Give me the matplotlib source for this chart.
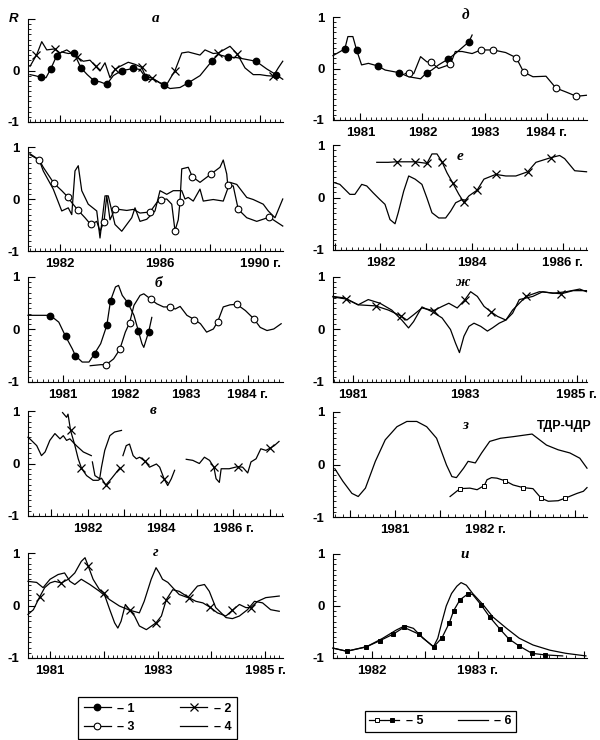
import numpy as np
import matplotlib
matplotlib.use('Agg')
import matplotlib.pyplot as plt
from matplotlib.lines import Line2D
from matplotlib.ticker import MultipleLocator
from matplotlib.legend_handler import HandlerTuple
from matplotlib import font_manager

plt.rcParams['font.family'] = ['Liberation Sans', 'DejaVu Sans']
names = {f.name for f in font_manager.fontManager.ttflist}
TICKFONT = 'Liberation Sans Narrow' if 'Liberation Sans Narrow' in names else 'Liberation Sans'
nan = np.nan

# ---- panel a (top) : curve 1 (dots) and curve 2 (crosses)
a_c1_x = [1980.80, 1981.00, 1981.23, 1981.44, 1981.63, 1981.87, 1982.07, 1982.33, 1982.56, 1982.84,
          1983.09, 1983.36, 1983.60, 1983.87, 1984.13, 1984.47, 1984.73, 1984.93, 1985.20, 1985.40,
          1985.67, 1985.93, 1986.16, 1986.40, 1986.80, 1987.13, 1987.60, 1988.07, 1988.33, 1988.73,
          1989.07, 1989.40, 1989.84, 1990.27, 1990.64, 1990.91]
a_c1_y = [-0.08, -0.10, -0.13, -0.14, 0.03, 0.29, 0.36, 0.33, 0.34, 0.05,
          -0.08, -0.20, -0.22, -0.27, -0.10, 0.00, 0.02, 0.04, 0.02, -0.12,
          -0.14, -0.22, -0.29, -0.35, -0.33, -0.24, -0.10, 0.18, 0.31, 0.26,
          0.25, 0.22, 0.18, 0.03, -0.08, -0.17]
a_c1_mx = [1981.23, 1981.63, 1981.87, 1982.56, 1982.84, 1983.36, 1983.87, 1984.47, 1984.93, 1985.40,
           1986.16, 1987.13, 1988.07, 1988.73, 1989.84, 1990.64]
a_c1_my = [-0.13, 0.03, 0.29, 0.34, 0.05, -0.20, -0.27, 0.00, 0.04, -0.12,
           -0.29, -0.24, 0.18, 0.26, 0.18, -0.08]
a_c2_x = [1980.80, 1981.07, 1981.27, 1981.47, 1981.80, 1982.00, 1982.27, 1982.69, 1982.93, 1983.20,
          1983.43, 1983.60, 1983.80, 1984.00, 1984.20, 1984.40, 1984.73, 1985.00, 1985.27, 1985.47,
          1985.73, 1986.00, 1986.27, 1986.60, 1986.87, 1987.13, 1987.60, 1987.80, 1988.13, 1988.33,
          1988.80, 1989.09, 1989.40, 1989.73, 1990.00, 1990.27, 1990.53, 1990.73, 1990.91]
a_c2_y = [0.08, 0.31, 0.56, 0.40, 0.42, 0.34, 0.40, 0.26, 0.18, 0.20,
          0.08, -0.01, 0.15, -0.14, 0.02, 0.08, 0.16, 0.12, 0.06, -0.17,
          -0.17, -0.24, -0.27, 0.00, 0.34, 0.36, 0.30, 0.40, 0.33, 0.34,
          0.47, 0.32, 0.05, -0.08, -0.08, -0.10, -0.11, 0.05, 0.18]
a_c2_mx = [1981.04, 1981.80, 1982.69, 1983.43, 1984.20, 1985.27, 1985.67, 1986.60, 1988.33, 1989.09, 1990.53]
a_c2_my = [0.31, 0.42, 0.26, 0.08, 0.02, 0.06, -0.15, 0.00, 0.34, 0.32, -0.11]

# ---- panel a (second row) : curve 3 (circles) and curve 4
a2_c3_x = [1980.80, 1981.17, 1981.33, 1981.76, 1982.07, 1982.33, 1982.47, 1982.73, 1983.00, 1983.23,
           1983.47, 1983.60, 1983.76, 1983.87, 1984.00, 1984.20, 1984.67, 1984.93, 1985.20, 1985.60,
           1985.87, 1986.04, 1986.27, 1986.47, 1986.60, 1986.73, 1986.80, 1986.87, 1987.13, 1987.29,
           1987.60, 1988.04, 1988.40, 1988.53, 1988.67, 1988.71, 1988.93, 1989.13, 1989.47, 1989.87,
           1990.37, 1990.91]
a2_c3_y = [0.85, 0.75, 0.61, 0.30, 0.16, 0.03, -0.07, -0.22, -0.36, -0.49,
           -0.43, -0.62, -0.44, 0.06, -0.40, -0.19, -0.22, -0.20, -0.27, -0.25,
           -0.07, -0.01, 0.00, -0.10, -0.61, -0.40, -0.05, 0.58, 0.61, 0.43,
           0.32, 0.48, 0.61, 0.75, 0.48, 0.27, 0.25, -0.20, -0.36, -0.43,
           -0.35, -0.52]
a2_c3_mx = [1981.17, 1981.76, 1982.33, 1982.73, 1983.23, 1983.76, 1984.20, 1985.60, 1986.04, 1986.60,
            1986.80, 1987.29, 1988.04, 1988.71, 1989.13, 1990.37]
a2_c3_my = [0.75, 0.30, 0.03, -0.22, -0.49, -0.44, -0.19, -0.25, -0.01, -0.61,
            -0.05, 0.43, 0.48, 0.27, -0.20, -0.35]
a2_c4_x = [1980.80, 1981.17, 1981.33, 1981.73, 1982.07, 1982.33, 1982.47, 1982.60, 1982.73, 1982.87,
           1983.13, 1983.47, 1983.60, 1983.80, 1983.93, 1984.20, 1984.47, 1984.87, 1985.00, 1985.20,
           1985.47, 1985.80, 1986.00, 1986.27, 1986.53, 1986.87, 1987.00, 1987.13, 1987.33, 1987.60,
           1987.73, 1988.13, 1988.53, 1988.80, 1989.07, 1989.47, 1989.73, 1990.13, 1990.33, 1990.60,
           1990.91]
a2_c4_y = [0.87, 0.75, 0.54, 0.19, -0.23, -0.17, -0.30, 0.54, 0.64, 0.16,
           -0.10, -0.23, -0.75, 0.06, 0.06, -0.49, -0.62, -0.36, -0.17, -0.43,
           -0.39, -0.23, 0.16, 0.09, 0.16, 0.16, 0.00, 0.03, -0.04, 0.19,
           -0.04, -0.01, -0.04, 0.32, 0.28, 0.03, -0.01, -0.10, -0.23, -0.36,
           0.00]

# ---- panel d (д)
d_c1_x = [1980.56, 1980.75, 1980.80, 1980.88, 1980.94, 1981.02, 1981.13, 1981.28, 1981.40, 1981.62,
          1981.78, 1981.97, 1982.07, 1982.15, 1982.26, 1982.41, 1982.53, 1982.75, 1982.80]
d_c1_y = [0.25, 0.38, 0.62, 0.62, 0.36, 0.07, 0.10, 0.05, -0.03, -0.08,
          -0.16, -0.20, -0.08, -0.03, 0.07, 0.18, 0.29, 0.52, 0.65]
d_c1_mx = [1980.75, 1980.94, 1981.28, 1981.62, 1982.07, 1982.41, 1982.75]
d_c1_my = [0.38, 0.36, 0.05, -0.08, -0.08, 0.18, 0.52]
d_c3_x = [1981.72, 1981.78, 1981.86, 1981.97, 1982.07, 1982.14, 1982.26, 1982.45, 1982.53, 1982.64,
          1982.80, 1982.94, 1983.14, 1983.34, 1983.51, 1983.63, 1983.78, 1983.99, 1984.15, 1984.32,
          1984.48, 1984.64]
d_c3_y = [-0.10, -0.08, -0.10, 0.23, 0.13, 0.12, 0.00, 0.08, 0.33, 0.33,
          0.29, 0.36, 0.36, 0.31, 0.21, -0.07, -0.16, -0.15, -0.38, -0.46,
          -0.54, -0.52]
d_c3_mx = [1981.78, 1982.14, 1982.45, 1982.94, 1983.14, 1983.51, 1983.63, 1984.15, 1984.48]
d_c3_my = [-0.08, 0.12, 0.08, 0.36, 0.36, 0.21, -0.07, -0.38, -0.54]

# ---- panel e (е)
e_c2_x = [1981.92, 1982.17, 1982.36, 1982.76, 1983.02, 1983.13, 1983.24, 1983.35, 1983.46, 1983.59,
          1983.72, 1983.83, 1983.94, 1984.12, 1984.27, 1984.53, 1984.75, 1984.97, 1985.23, 1985.41,
          1985.63, 1985.74, 1985.93, 1986.04, 1986.26, 1986.52]
e_c2_y = [0.67, 0.67, 0.68, 0.68, 0.65, 0.83, 0.83, 0.68, 0.47, 0.27,
          0.06, -0.09, 0.03, 0.14, 0.35, 0.44, 0.41, 0.41, 0.49, 0.67,
          0.73, 0.76, 0.80, 0.74, 0.51, 0.49]
e_c2_mx = [1982.36, 1982.76, 1983.02, 1983.35, 1983.59, 1983.83, 1984.12, 1984.53, 1985.23, 1985.74]
e_c2_my = [0.68, 0.68, 0.65, 0.68, 0.27, -0.09, 0.14, 0.44, 0.49, 0.76]
e_c4_x = [1981.00, 1981.11, 1981.33, 1981.44, 1981.59, 1981.70, 1981.84, 1981.99, 1982.10, 1982.21,
          1982.32, 1982.39, 1982.51, 1982.62, 1982.76, 1982.91, 1983.02, 1983.13, 1983.28, 1983.43,
          1983.54, 1983.65, 1983.79, 1983.87]
e_c4_y = [0.28, 0.25, 0.06, 0.06, 0.25, 0.22, 0.09, -0.04, -0.13, -0.42,
          -0.50, -0.29, 0.12, 0.41, 0.35, 0.25, -0.01, -0.29, -0.39, -0.39,
          -0.26, -0.10, -0.04, -0.05]

# ---- panel b (б)
b_c1_x = [1980.43, 1980.79, 1980.93, 1981.04, 1981.15, 1981.20, 1981.31, 1981.42, 1981.51, 1981.61,
          1981.71, 1981.77, 1981.85, 1981.90, 1981.96, 1982.05, 1982.15, 1982.22, 1982.28, 1982.31,
          1982.39, 1982.44]
b_c1_y = [0.27, 0.27, 0.14, -0.13, -0.37, -0.50, -0.62, -0.62, -0.46, -0.27,
          0.08, 0.55, 0.81, 0.84, 0.65, 0.51, 0.27, -0.02, -0.27, -0.34,
          -0.04, 0.23]
b_c1_mx = [1980.79, 1981.04, 1981.20, 1981.51, 1981.71, 1981.77, 1982.05, 1982.22, 1982.39]
b_c1_my = [0.25, -0.13, -0.50, -0.46, 0.08, 0.55, 0.51, -0.02, -0.04]
b_c3_x = [1981.44, 1981.61, 1981.70, 1981.82, 1981.92, 1982.01, 1982.08, 1982.15, 1982.25, 1982.31,
          1982.42, 1982.52, 1982.63, 1982.73, 1982.82, 1982.90, 1983.01, 1983.13, 1983.23, 1983.33,
          1983.44, 1983.51, 1983.60, 1983.71, 1983.82, 1983.96, 1984.10, 1984.20, 1984.31, 1984.42,
          1984.54]
b_c3_y = [-0.69, -0.67, -0.67, -0.56, -0.38, -0.05, 0.13, 0.46, 0.65, 0.68,
          0.58, 0.49, 0.43, 0.43, 0.39, 0.44, 0.27, 0.19, 0.11, -0.05,
          0.01, 0.15, 0.43, 0.47, 0.48, 0.36, 0.20, 0.04, -0.02, 0.01,
          0.11]
b_c3_mx = [1981.70, 1981.92, 1982.08, 1982.42, 1982.73, 1983.13, 1983.51, 1983.82, 1984.10]
b_c3_my = [-0.67, -0.38, 0.13, 0.58, 0.43, 0.19, 0.15, 0.48, 0.20]

# ---- panel zh (ж)
zh_c4_x = [1980.64, 1980.85, 1981.09, 1981.27, 1981.48, 1981.69, 1981.87, 1981.99, 1982.08, 1982.23,
           1982.41, 1982.59, 1982.74, 1982.83, 1982.90, 1982.98, 1983.07, 1983.16, 1983.28, 1983.40,
           1983.49, 1983.61, 1983.73, 1983.85, 1983.97, 1984.09, 1984.21, 1984.39, 1984.57, 1984.81,
           1985.05, 1985.17]
zh_c4_y = [0.63, 0.60, 0.47, 0.57, 0.50, 0.37, 0.18, 0.03, 0.15, 0.43,
           0.34, 0.22, 0.00, -0.26, -0.44, -0.13, 0.06, 0.12, 0.06, -0.03,
           0.03, 0.12, 0.18, 0.31, 0.57, 0.60, 0.63, 0.72, 0.69, 0.72,
           0.77, 0.72]
zh_c2_x = [1980.64, 1980.88, 1981.09, 1981.40, 1981.63, 1981.85, 1981.96, 1982.08, 1982.23, 1982.44,
           1982.59, 1982.71, 1982.86, 1983.00, 1983.10, 1983.22, 1983.34, 1983.46, 1983.58, 1983.73,
           1983.85, 1984.09, 1984.33, 1984.72, 1984.93, 1985.17]
zh_c2_y = [0.62, 0.58, 0.47, 0.45, 0.37, 0.26, 0.18, 0.28, 0.41, 0.36,
           0.44, 0.50, 0.41, 0.57, 0.72, 0.63, 0.44, 0.34, 0.25, 0.18,
           0.37, 0.63, 0.72, 0.68, 0.74, 0.74]
zh_c2_mx = [1980.88, 1981.40, 1981.85, 1982.44, 1983.00, 1983.46, 1984.09, 1984.72]
zh_c2_my = [0.58, 0.45, 0.26, 0.36, 0.57, 0.34, 0.63, 0.68]

# ---- panel v (в)
v_c4_x = [1980.36, 1980.41, 1980.60, 1980.73, 1980.83, 1980.96, 1981.10, 1981.24, 1981.33, 1981.42,
          1981.51, 1981.69, 1981.88, 1982.10, nan,
          1982.13, 1982.20, 1982.33, 1982.38, 1982.47, 1982.61, 1982.74, 1982.93]
v_c4_y = [0.50, 0.47, 0.34, 0.15, 0.22, 0.44, 0.57, 0.47, 0.53, 0.44,
          0.47, 0.34, 0.22, 0.15, nan,
          0.03, -0.23, -0.29, -0.07, 0.25, 0.53, 0.60, 0.63]
v_c2_x = [1981.31, 1981.42, 1981.46, 1981.53, 1981.65, 1981.74, 1981.83, 1981.97, 1982.15, 1982.29,
          1982.38, 1982.50, 1982.65, 1982.88, nan,
          1982.97, 1983.06, 1983.15, 1983.25, 1983.34, 1983.43, 1983.58, 1983.70, 1983.89, 1983.98,
          1984.10, 1984.20, 1984.30, 1984.39, nan,
          1984.71, 1984.89, 1985.07, 1985.21, 1985.35, 1985.47, 1985.53, 1985.62, 1985.67, 1985.89,
          1986.12, 1986.26, 1986.40, 1986.49, 1986.63, 1986.76, 1986.90, 1987.01, 1987.13, 1987.26]
v_c2_y = [0.97, 0.88, 0.94, 0.63, 0.34, 0.09, -0.09, -0.23, -0.32, -0.32,
          -0.28, -0.41, -0.29, -0.09, nan,
          0.15, 0.34, 0.37, 0.15, 0.09, 0.12, 0.04, -0.07, -0.01, -0.07,
          -0.29, -0.42, -0.29, -0.13, nan,
          0.08, 0.06, 0.00, 0.12, 0.06, -0.07, -0.29, -0.36, -0.10, -0.10,
          -0.06, -0.07, -0.18, 0.03, 0.09, 0.28, 0.25, 0.29, 0.34, 0.42]
v_c2_mx = [1981.53, 1981.83, 1982.50, 1982.88, 1983.58, 1984.10, 1985.47, 1986.12, 1987.01]
v_c2_my = [0.63, -0.09, -0.41, -0.09, 0.04, -0.29, -0.07, -0.06, 0.29]

# ---- panel z (з), ТДР-ЧДР
z_c6_x = [1980.33, 1980.42, 1980.52, 1980.59, 1980.67, 1980.78, 1980.89, 1981.02, 1981.13, 1981.24,
          1981.35, 1981.46, 1981.57, 1981.63, 1981.68, 1981.76, 1981.81, 1981.89, 1981.96, 1982.05,
          1982.17, 1982.31, 1982.52, 1982.68, 1982.81, 1982.94, 1983.05, 1983.13]
z_c6_y = [-0.08, -0.32, -0.55, -0.61, -0.45, 0.06, 0.47, 0.72, 0.82, 0.82,
          0.72, 0.50, -0.01, -0.23, -0.25, -0.07, 0.06, 0.03, 0.22, 0.44,
          0.50, 0.53, 0.58, 0.37, 0.28, 0.22, 0.12, -0.07]
z_c5_x = [1981.61, 1981.72, 1981.83, 1981.91, 1981.99, 1982.02, 1982.07, 1982.13, 1982.22, 1982.31,
          1982.42, 1982.53, 1982.62, 1982.70, 1982.81, 1982.89, 1983.02, 1983.09, 1983.13]
z_c5_y = [-0.61, -0.46, -0.45, -0.48, -0.40, -0.29, -0.25, -0.26, -0.31, -0.39,
          -0.44, -0.46, -0.64, -0.70, -0.69, -0.64, -0.55, -0.51, -0.44]
z_c5_mx = [1981.72, 1981.99, 1982.22, 1982.42, 1982.62, 1982.89]
z_c5_my = [-0.46, -0.40, -0.31, -0.44, -0.64, -0.64]

# ---- panel g (г)
g_c2_x = [1980.59, 1980.69, 1980.81, 1980.90, 1981.00, 1981.09, 1981.21, 1981.34, 1981.46, 1981.58,
          1981.65, 1981.71, 1981.80, 1981.92, 1982.00, 1982.11, 1982.20, 1982.26, 1982.32, 1982.40,
          1982.48, 1982.57, 1982.66, 1982.79, 1982.97, 1983.07, 1983.16, 1983.28, 1983.40, 1983.58,
          1983.71, 1983.84, 1983.97, 1984.11, 1984.27, 1984.39, 1984.52, 1984.64, 1984.73, 1984.86,
          1985.01, 1985.26]
g_c2_y = [-0.17, -0.08, 0.17, 0.34, 0.43, 0.46, 0.43, 0.50, 0.62, 0.84,
          0.91, 0.75, 0.50, 0.30, 0.24, -0.08, -0.33, -0.43, -0.30, 0.02,
          -0.09, -0.20, -0.39, -0.46, -0.33, -0.20, 0.11, 0.30, 0.27, 0.15,
          0.08, 0.05, -0.03, -0.14, -0.20, -0.09, 0.02, -0.04, -0.04, 0.08,
          0.15, 0.18]
g_c2_mx = [1980.81, 1981.21, 1981.71, 1982.00, 1982.48, 1982.97, 1983.16, 1983.58, 1983.97, 1984.39, 1984.73]
g_c2_my = [0.17, 0.43, 0.75, 0.24, -0.09, -0.33, 0.11, 0.15, -0.03, -0.09, -0.04]
g_c4_x = [1980.59, 1980.75, 1980.87, 1981.00, 1981.15, 1981.27, 1981.37, 1981.46, 1981.58, 1981.74,
          1981.92, 1982.11, 1982.29, 1982.48, 1982.66, 1982.75, 1982.88, 1982.97, 1983.03, 1983.09,
          1983.19, 1983.28, 1983.40, 1983.56, 1983.74, 1983.87, 1983.96, 1984.08, 1984.27, 1984.39,
          1984.52, 1984.67, 1984.80, 1984.95, 1985.10, 1985.26]
g_c4_y = [0.46, 0.44, 0.34, 0.50, 0.59, 0.62, 0.46, 0.40, 0.50, 0.40,
          0.27, 0.11, -0.01, -0.09, -0.14, 0.08, 0.50, 0.72, 0.62, 0.50,
          0.44, 0.34, 0.21, 0.15, 0.37, 0.40, 0.27, -0.04, -0.23, -0.25,
          -0.20, -0.08, 0.08, 0.05, -0.08, -0.11]

# ---- panel i (и)
i_c6_x = [1981.63, 1981.76, 1981.95, 1982.10, 1982.23, 1982.31, 1982.39, 1982.48, 1982.58, 1982.62,
          1982.66, 1982.70, 1982.75, 1982.80, 1982.84, 1982.89, 1982.95, 1983.05, 1983.14, 1983.27,
          1983.39, 1983.52, 1983.68, 1983.83, 1984.02]
i_c6_y = [-0.81, -0.87, -0.78, -0.62, -0.46, -0.38, -0.43, -0.62, -0.78, -0.62,
          -0.30, 0.00, 0.24, 0.38, 0.45, 0.40, 0.24, 0.02, -0.21, -0.43,
          -0.62, -0.75, -0.85, -0.91, -0.96]
i_c5_x = [1981.63, 1981.76, 1981.94, 1982.07, 1982.20, 1982.30, 1982.44, 1982.58, 1982.66, 1982.73,
          1982.77, 1982.83, 1982.91, 1982.95, 1983.03, 1983.11, 1983.21, 1983.29, 1983.39, 1983.51,
          1983.63, 1983.80]
i_c5_y = [-0.81, -0.87, -0.79, -0.67, -0.54, -0.41, -0.54, -0.79, -0.61, -0.32,
          -0.09, 0.12, 0.24, 0.22, 0.02, -0.21, -0.45, -0.63, -0.77, -0.91,
          -0.94, -0.96]
i_c5_mx = [1981.76, 1981.94, 1982.07, 1982.20, 1982.30, 1982.44, 1982.58, 1982.66, 1982.73, 1982.77,
           1982.83, 1982.91, 1983.03, 1983.11, 1983.21, 1983.29, 1983.39, 1983.51, 1983.63]
i_c5_my = [-0.87, -0.79, -0.67, -0.54, -0.41, -0.54, -0.79, -0.61, -0.32, -0.09,
           0.12, 0.24, 0.02, -0.21, -0.45, -0.63, -0.77, -0.91, -0.94]

W, H = 600, 740
fig = plt.figure(figsize=(W / 100, H / 100), dpi=100)
LW = 0.9


def make_axes(left, top, right, bottom):
    return fig.add_axes([left / W, 1 - bottom / H, (right - left) / W, (bottom - top) / H])


def style(ax, xlim, major, minor, labels):
    ax.set_xlim(xlim)
    ax.set_ylim(-1, 1)
    ax.spines['top'].set_visible(False)
    ax.spines['right'].set_visible(False)
    ax.set_xticks(major)
    ax.set_xticklabels([labels.get(m, '') for m in major])
    ax.xaxis.set_minor_locator(MultipleLocator(minor))
    ax.set_yticks([-1, 0, 1])
    ax.set_yticklabels(['-1', '0', '1'])
    ax.yaxis.set_minor_locator(MultipleLocator(0.1))
    ax.tick_params(which='major', direction='in', length=5, width=0.8, labelsize=9.5)
    ax.tick_params(which='minor', direction='in', length=2.5, width=0.6)
    ax.tick_params(axis='x', pad=5)
    ax.tick_params(axis='y', pad=6)
    for lbl in ax.get_xticklabels() + ax.get_yticklabels():
        lbl.set_fontweight('bold')
        lbl.set_family(TICKFONT)


def letter(ax, x, y, s):
    ax.text(x, y, s, transform=ax.transAxes, ha='center', va='center', fontsize=11,
            family='Liberation Serif', style='italic', fontweight='bold')


def line(ax, x, y):
    ax.plot(x, y, color='k', lw=LW, clip_on=False)


def dots(ax, x, y):
    ax.plot(x, y, 'o', color='k', ms=4.6, clip_on=False)


def circles(ax, x, y):
    ax.plot(x, y, 'o', mfc='white', mec='k', mew=0.8, ms=4.8, clip_on=False)


def crosses(ax, x, y):
    ax.plot(x, y, 'x', color='k', mew=0.9, ms=5.2, clip_on=False)


def squares(ax, x, y, filled):
    ax.plot(x, y, 's', mfc='k' if filled else 'white', mec='k', mew=0.7, ms=3.2, clip_on=False)


LX0, LX1 = 28, 283
RX0, RX1 = 333, 587

# left column
ax = make_axes(LX0, 19, LX1, 122)
style(ax, (1980.72, 1990.92), [1982, 1984, 1986, 1988, 1990], 0.2, {})
ax.set_yticklabels(['-1', '0', ''])
ax.text(-0.055, 1.0, 'R', transform=ax.transAxes, ha='center', va='center',
        fontsize=9.5, style='italic', fontweight='bold')
line(ax, a_c1_x, a_c1_y)
dots(ax, a_c1_mx, a_c1_my)
line(ax, a_c2_x, a_c2_y)
crosses(ax, a_c2_mx, a_c2_my)
letter(ax, 0.5, 1.0, 'а')

ax = make_axes(LX0, 147, LX1, 251)
style(ax, (1980.72, 1990.92), [1982, 1984, 1986, 1988, 1990], 0.2,
      {1982: '1982', 1986: '1986', 1990: '1990 г.'})
line(ax, a2_c4_x, a2_c4_y)
line(ax, a2_c3_x, a2_c3_y)
circles(ax, a2_c3_mx, a2_c3_my)

ax = make_axes(LX0, 277, LX1, 382)
style(ax, (1980.43, 1984.57), [1981, 1982, 1983, 1984], 1 / 12,
      {1981: '1981', 1982: '1982', 1983: '1983', 1984: '1984 г.'})
line(ax, b_c1_x, b_c1_y)
dots(ax, b_c1_mx, b_c1_my)
line(ax, b_c3_x, b_c3_y)
circles(ax, b_c3_mx, b_c3_my)
letter(ax, 0.51, 0.94, 'б')

ax = make_axes(LX0, 411, LX1, 516)
style(ax, (1980.36, 1987.37), [1981, 1982, 1983, 1984, 1985, 1986, 1987], 1 / 6,
      {1982: '1982', 1984: '1984', 1986: '1986 г.'})
line(ax, v_c4_x, v_c4_y)
line(ax, v_c2_x, v_c2_y)
crosses(ax, v_c2_mx, v_c2_my)
letter(ax, 0.49, 1.0, 'в')

ax = make_axes(LX0, 553, LX1, 658)
style(ax, (1980.59, 1985.33), [1981, 1982, 1983, 1984, 1985], 1 / 12,
      {1981: '1981', 1983: '1983', 1985: '1985 г.'})
line(ax, g_c4_x, g_c4_y)
line(ax, g_c2_x, g_c2_y)
crosses(ax, g_c2_mx, g_c2_my)
letter(ax, 0.5, 1.0, 'г')

# right column
ax = make_axes(RX0, 17, RX1, 120)
style(ax, (1980.56, 1984.65), [1981, 1982, 1983, 1984], 1 / 12,
      {1981: '1981', 1982: '1982', 1983: '1983', 1984: '1984 г.'})
line(ax, d_c1_x, d_c1_y)
dots(ax, d_c1_mx, d_c1_my)
line(ax, d_c3_x, d_c3_y)
circles(ax, d_c3_mx, d_c3_my)
letter(ax, 0.52, 1.01, 'д')

ax = make_axes(RX0, 145, RX1, 250)
style(ax, (1980.96, 1986.53), [1981, 1982, 1983, 1984, 1985, 1986], 1 / 8,
      {1982: '1982', 1984: '1984', 1986: '1986 г.'})
line(ax, e_c4_x, e_c4_y)
line(ax, e_c2_x, e_c2_y)
crosses(ax, e_c2_mx, e_c2_my)
letter(ax, 0.5, 0.89, 'е')

ax = make_axes(RX0, 277, RX1, 382)
style(ax, (1980.64, 1985.18), [1981, 1982, 1983, 1984, 1985], 1 / 12,
      {1981: '1981', 1983: '1983', 1985: '1985 г.'})
line(ax, zh_c4_x, zh_c4_y)
line(ax, zh_c2_x, zh_c2_y)
crosses(ax, zh_c2_mx, zh_c2_my)
letter(ax, 0.51, 0.95, 'ж')

ax = make_axes(RX0, 412, RX1, 517)
style(ax, (1980.31, 1983.13), [1980.5, 1981, 1981.5, 1982, 1982.5, 1983], 1 / 12,
      {1981: '1981', 1982: '1982 г.'})
line(ax, z_c6_x, z_c6_y)
line(ax, z_c5_x, z_c5_y)
squares(ax, z_c5_mx, z_c5_my, False)
letter(ax, 0.52, 0.87, 'з')
ax.text(0.91, 0.87, 'ТДР-ЧДР', transform=ax.transAxes, ha='center', va='center',
        fontsize=9, fontweight='bold', family=TICKFONT)

ax = make_axes(RX0, 554, RX1, 658)
style(ax, (1981.63, 1984.03), [1982, 1982.5, 1983, 1983.5, 1984], 1 / 12,
      {1982: '1982', 1983: '1983 г.'})
line(ax, i_c6_x, i_c6_y)
line(ax, i_c5_x, i_c5_y)
squares(ax, i_c5_mx, i_c5_my, True)
letter(ax, 0.52, 1.0, 'и')

# legends
h1 = Line2D([], [], color='k', lw=LW, marker='o', ms=4.6)
h2 = Line2D([], [], color='k', lw=LW, marker='x', ms=5.2, mew=0.9)
h3 = Line2D([], [], color='k', lw=LW, marker='o', ms=4.8, mfc='white', mew=0.8)
h4 = Line2D([], [], color='k', lw=LW)
leg1 = fig.legend([h1, h3, h2, h4], ['– 1', '– 3', '– 2', '– 4'], ncol=2,
                  loc='upper left', bbox_to_anchor=(78 / W, 1 - 697 / H), borderaxespad=0,
                  frameon=True, fancybox=False, edgecolor='k', framealpha=1,
                  prop={'weight': 'bold', 'size': 9}, handlelength=2.2,
                  columnspacing=3.6, borderpad=0.45, labelspacing=0.5, handletextpad=0.5)
leg1.get_frame().set_linewidth(0.9)

h5a = Line2D([], [], color='k', lw=LW, marker='s', ms=3.2, mfc='white', mew=0.7)
h5b = Line2D([], [], color='k', lw=LW, marker='s', ms=3.2, mfc='k', mew=0.7)
h6 = Line2D([], [], color='k', lw=LW)
leg2 = fig.legend([(h5a, h5b), h6], ['– 5', '– 6'], ncol=2,
                  loc='upper left', bbox_to_anchor=(365 / W, 1 - 711 / H), borderaxespad=0,
                  frameon=True, fancybox=False, edgecolor='k', framealpha=1,
                  prop={'weight': 'bold', 'size': 9}, handlelength=2.4,
                  columnspacing=2.8, borderpad=0.35, handletextpad=0.5,
                  handler_map={tuple: HandlerTuple(ndivide=None, pad=0.1)})
leg2.get_frame().set_linewidth(0.9)

fig.savefig('out.png', dpi=100)
